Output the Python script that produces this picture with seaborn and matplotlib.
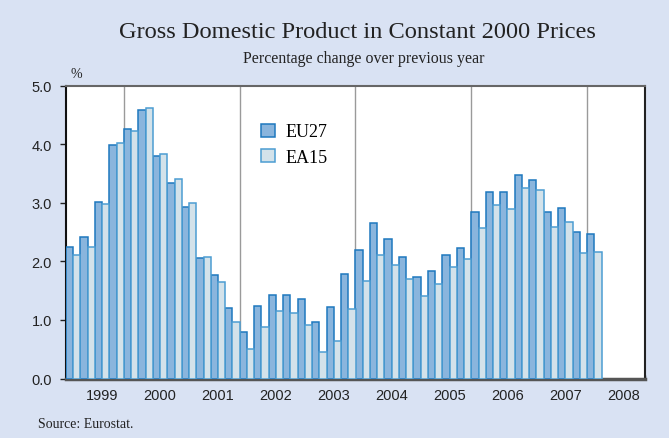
import numpy as np
import pandas as pd
import matplotlib
matplotlib.use("Agg")
import matplotlib.pyplot as plt
import seaborn as sns
from matplotlib.patches import Patch

quarters = [f"{y}Q{q}" for y in range(1999, 2008) for q in range(1, 5)] + ["2008Q1"]
eu27 = [2.24, 2.41, 3.01, 3.98,
        4.26, 4.58, 3.80, 3.34,
        2.93, 2.05, 1.76, 1.21,
        0.80, 1.24, 1.43, 1.43,
        1.36, 0.96, 1.22, 1.78,
        2.20, 2.65, 2.38, 2.08,
        1.73, 1.84, 2.10, 2.22,
        2.84, 3.19, 3.19, 3.47,
        3.38, 2.84, 2.91, 2.50,
        2.46]
ea15 = [2.10, 2.25, 2.98, 4.02,
        4.23, 4.62, 3.83, 3.41,
        2.99, 2.08, 1.65, 0.96,
        0.51, 0.88, 1.16, 1.12,
        0.92, 0.46, 0.64, 1.18,
        1.66, 2.10, 1.93, 1.69,
        1.41, 1.61, 1.90, 2.04,
        2.57, 2.96, 2.90, 3.25,
        3.21, 2.58, 2.67, 2.14,
        2.16]
series = ["EU27", "EA15"]
year_labels = [str(y) for y in range(1999, 2009)]
yticks = [0.0, 1.0, 2.0, 3.0, 4.0, 5.0]

fills = {"EU27": "#8AB5DD", "EA15": "#D3E2EA"}
edges = {"EU27": "#1E78BE", "EA15": "#4C9DD2"}
bg = "#D9E2F3"

df = pd.DataFrame({
    "quarter": quarters * 2,
    "series": ["EU27"] * len(quarters) + ["EA15"] * len(quarters),
    "value": eu27 + ea15,
})

fig = plt.figure(figsize=(6.69, 4.39), dpi=100, facecolor=bg)
ax = fig.add_axes([66 / 669, 1 - 379.5 / 439, 579 / 669, 293 / 439])
ax.set_facecolor("white")

sns.barplot(data=df, x="quarter", y="value", hue="series", order=quarters,
            hue_order=series, palette=fills, width=1.0, dodge=True,
            ax=ax, legend=False, zorder=3, saturation=1)

for cont, s in zip(ax.containers, series):
    for bar in cont:
        bar.set_edgecolor(edges[s])
        bar.set_linewidth(1.1)

ax.set_xlim(-0.5, 39.5)
ax.set_ylim(0, 5.0)

# vertical grid lines every two years
for xv in [3.5, 11.5, 19.5, 27.5, 35.5]:
    ax.axvline(xv, color="#9A9A9A", lw=1.0, zorder=1)

ax.set_xticks([-0.5 + 4 * k for k in range(11)])
ax.set_xticklabels([])
ax.tick_params(axis="x", which="major", direction="in", length=3, width=1, color="#222222")
ax.set_xticks([2 + 4 * k for k in range(10)], minor=True)
ax.set_xticklabels(year_labels, minor=True, family="Liberation Sans")
ax.tick_params(axis="x", which="minor", length=0, pad=7,
               labelsize=10.5, labelcolor="#222222")

ax.set_yticks(yticks)
ax.set_yticklabels([f"{v:.1f}" for v in yticks], family="Liberation Sans",
                   fontsize=10.5, color="#222222")
ax.tick_params(axis="y", direction="out", length=4, width=1, color="#222222", pad=6)

ax.set_xlabel("")
ax.set_ylabel("")

for side, c, w in [("left", "#111111", 1.5), ("right", "#222222", 1.5),
                   ("top", "#666666", 1.5), ("bottom", "#555555", 2.5)]:
    ax.spines[side].set_color(c)
    ax.spines[side].set_linewidth(w)
    ax.spines[side].set_visible(True)

handles = [Patch(facecolor=fills[s], edgecolor=edges[s], linewidth=1.1, label=s) for s in series]
ax.legend(handles=handles, loc="upper left", bbox_to_anchor=(0.325, 0.895),
          frameon=False, prop={"family": "Liberation Serif", "size": 13},
          handlelength=0.75, handleheight=0.75, handletextpad=0.6, labelspacing=0.45,
          borderaxespad=0)

fig.text(357 / 669, 1 - 33 / 439, "Gross Domestic Product in Constant 2000 Prices",
         ha="center", va="center", family="Liberation Serif", fontsize=17.6, color="#222222")
fig.text(364 / 669, 1 - 59 / 439, "Percentage change over previous year",
         ha="center", va="center", family="Liberation Serif", fontsize=11.4, color="#222222")
fig.text(76 / 669, 1 - 74 / 439, "%", ha="center", va="center",
         family="Liberation Serif", fontsize=10, color="#222222")
fig.text(38 / 669, 1 - 425 / 439, "Source: Eurostat.", ha="left", va="center",
         family="Liberation Serif", fontsize=10, color="#222222")

fig.savefig("out.png", dpi=100, facecolor=bg)
